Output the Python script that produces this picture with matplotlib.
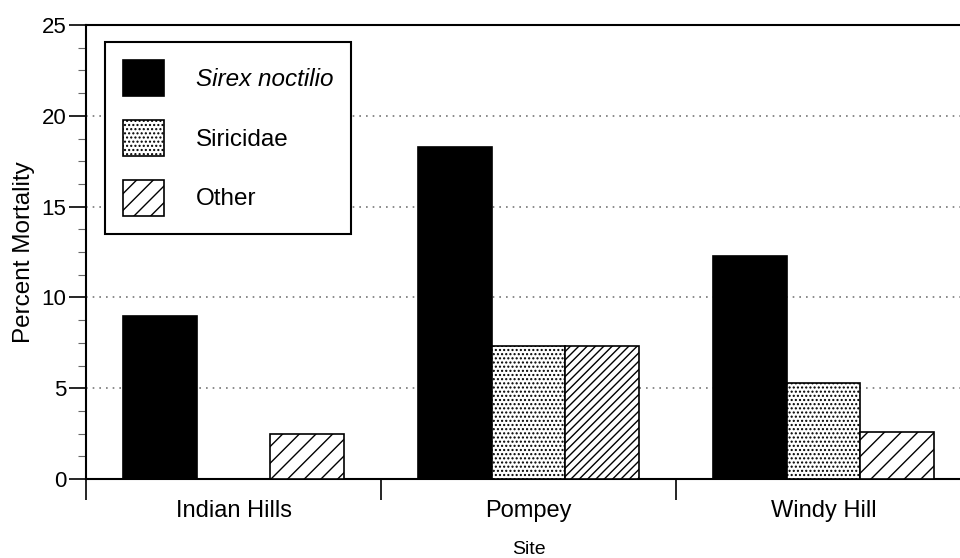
import matplotlib.pyplot as plt
import numpy as np
from matplotlib.ticker import MultipleLocator

plt.rcParams['font.family'] = ['Liberation Sans', 'DejaVu Sans']
plt.rcParams['hatch.linewidth'] = 1.0

sites = ['Indian Hills', 'Pompey', 'Windy Hill']
sirex = [9.0, 18.3, 12.3]
siricidae = [0.0, 7.3, 5.3]
other = [2.5, 7.3, 2.6]

fig = plt.figure(figsize=(9.6, 5.58), dpi=100)
ax = fig.add_axes([86 / 960, 79 / 558, 885 / 960, 454 / 558])

x = np.arange(len(sites))
w = 0.25
ax.bar(x - w, sirex, w, color='black', edgecolor='black', lw=1.2,
       label='Sirex noctilio', zorder=3)
ax.bar(x, siricidae, w, color='white', edgecolor='black', lw=1.2,
       hatch='....', label='Siricidae', zorder=3)
oth = ax.bar(x + w, other, w, color='white', edgecolor='black', lw=1.2,
             hatch='//', label='Other', zorder=3)
oth[1].set_hatch('////')

ax.set_xlim(-0.5, 2.5)
ax.set_ylim(0, 25)
ax.set_xticks(x)
ax.set_xticklabels(sites, fontsize=17)
ax.tick_params(axis='x', length=0, pad=15)
# group separators hang below the axis
ax.set_xticks([-0.5, 0.5, 1.5, 2.5], minor=True)
ax.tick_params(axis='x', which='minor', length=15, width=1.2, direction='out')

ax.yaxis.set_major_locator(MultipleLocator(5))
ax.yaxis.set_minor_locator(MultipleLocator(1.25))
ax.tick_params(axis='y', which='major', length=12, width=1.2, labelsize=16, pad=2)
ax.tick_params(axis='y', which='minor', length=6, width=0.8, color='#666666')

for s in ['left', 'bottom', 'top']:
    ax.spines[s].set_linewidth(1.5)
ax.spines['right'].set_visible(False)

ax.grid(axis='y', which='major', linestyle=(0, (1, 3)), color='#777777',
        linewidth=1.2, zorder=0)

ax.set_xlabel('Site', fontsize=14, labelpad=14)
ax.set_ylabel('Percent Mortality', fontsize=17.5, labelpad=5)

leg = ax.legend(loc='upper left', bbox_to_anchor=(0.021, 0.963), fontsize=17.5,
                frameon=True, fancybox=False, edgecolor='black',
                handlelength=1.7, handleheight=1.9, handletextpad=1.3,
                labelspacing=0.98, borderpad=0.75, borderaxespad=0)
leg.get_frame().set_linewidth(1.5)
leg.get_frame().set_alpha(1)
leg.set_zorder(5)
leg.get_texts()[0].set_fontstyle('italic')

fig.savefig('out.png', dpi=100)
